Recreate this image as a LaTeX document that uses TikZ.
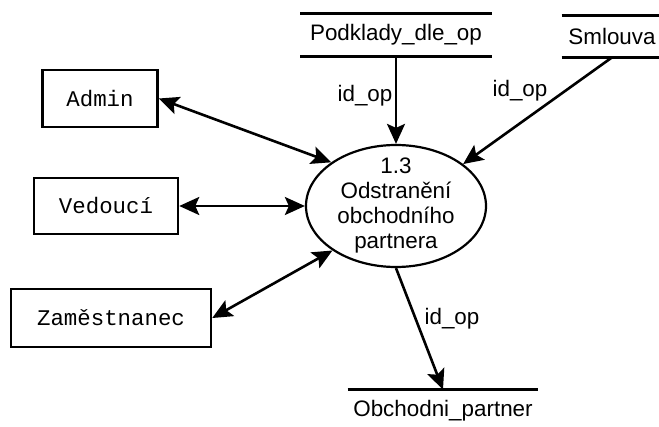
\documentclass[tikz,border=0pt]{standalone}
\usepackage{fontspec}
\setmainfont{Liberation Sans}
\setmonofont{Liberation Mono}
\usetikzlibrary{arrows.meta,shapes.geometric}
\tikzset{
  ent/.style={draw=black,line width=1.25pt,inner sep=0pt,
    font=\ttfamily\fontsize{11.2}{13}\selectfont},
  proc/.style={ellipse,draw=black,line width=1.1pt,inner sep=0pt,
    minimum width=90pt,minimum height=61pt},
  proctext/.style={align=center,inner sep=0pt,font=\fontsize{11.2}{12.5}\selectfont},
  store/.style={inner sep=0pt,font=\fontsize{11.2}{13}\selectfont},
  storeline/.style={draw=black,line width=1.5pt},
  lbl/.style={inner sep=0pt,font=\fontsize{11.2}{13}\selectfont},
  flow/.style={line width=1.3pt,-{Stealth[length=10pt,width=9pt,inset=2pt]}},
  biflow/.style={line width=1.3pt,
    {Stealth[length=10pt,width=9pt,inset=2pt]}-{Stealth[length=10pt,width=9pt,inset=2pt]}},
}

\begin{document}
\begin{tikzpicture}[x=0.5pt,y=-0.5pt]
  \useasboundingbox (0,0) rectangle (659,427);

  % process
  \node[proc] (proc) at (396,206) {};
  \node[proctext] (proctxt) at (proc) {1.3\\Odstranění\\obchodního\\partnera};

  % external entities
  \node[ent,minimum width=57.5pt,minimum height=28.5pt] (admin) at (100,98.5) {Admin};
  \node[ent,minimum width=72pt,minimum height=28pt] (vedouci) at (106,206) {Vedoucí};
  \node[ent,minimum width=100pt,minimum height=29pt] (zam) at (111,318) {Zaměstnanec};

  % data stores
  \node[store,minimum width=95.5pt,minimum height=21.5pt] (pod) at (396,35) {Podklady\_dle\_op};
  \node[store,minimum width=50pt,minimum height=20.5pt] (sml) at (612,36.5) {Smlouva};
  \node[store,minimum width=95pt,minimum height=21pt] (obp) at (443,411) {Obchodni\_partner};
  \draw[storeline] (pod.north west) -- (pod.north east);
  \draw[storeline] (pod.south west) -- (pod.south east);
  \draw[storeline] (sml.north west) -- (sml.north east);
  \draw[storeline] (sml.south west) -- (sml.south east);
  \draw[storeline] (obp.north west) -- (obp.north east);

  % flows
  \draw[biflow] (admin.east) -- (proc.146);
  \draw[biflow] (vedouci.east) -- (proc.west);
  \draw[biflow] (zam.east) -- (proc.215);
  \draw[flow] (pod.south) -- (proc.north);
  \draw[flow] (sml.south) -- (proc.32);
  \draw[flow] (proc.south) -- (obp.north);

  \node[lbl] (lpod) at (365,96) {id\_op};
  \node[lbl] (lsml) at (520,91) {id\_op};
  \node[lbl] (lobp) at (452,319) {id\_op};
\end{tikzpicture}
\end{document}
